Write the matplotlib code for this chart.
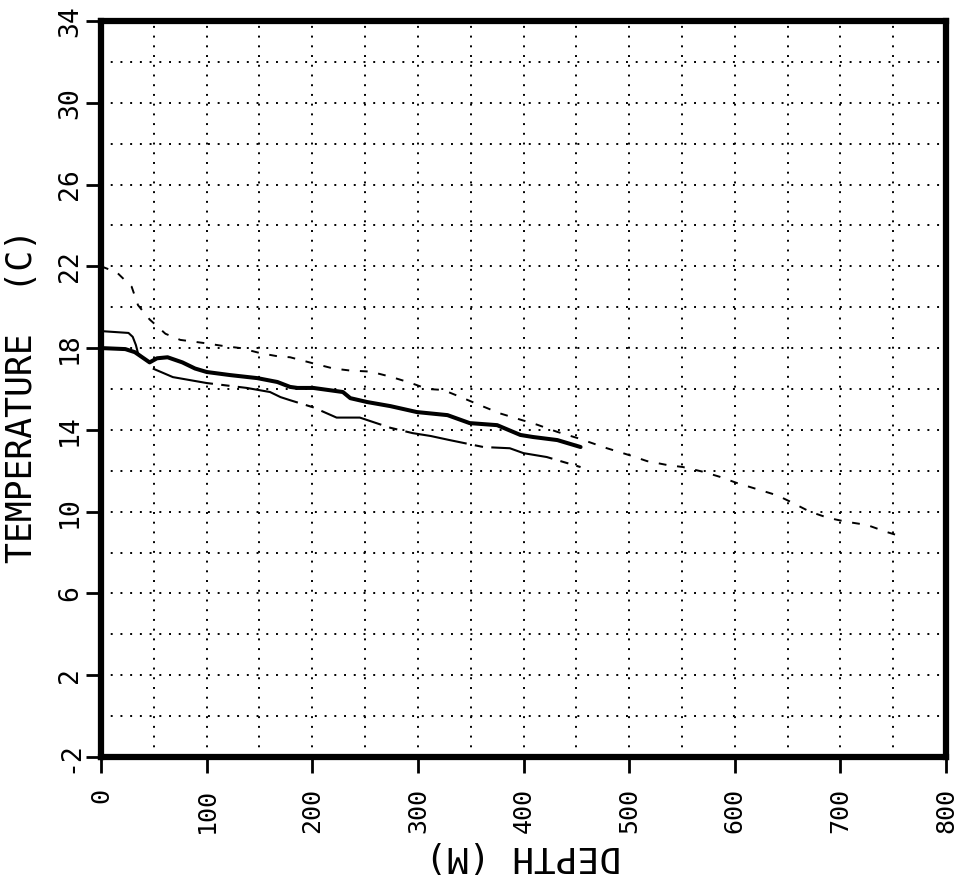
import matplotlib
matplotlib.use("Agg")
import matplotlib.pyplot as plt
from matplotlib.ticker import MultipleLocator

# --- data ---
# dashed profile (longest cast)
dash_depth = [0, 15, 29, 35, 46, 61, 75, 97, 116, 132, 151, 167, 179, 201, 220, 236,
              255, 274, 293, 309, 324, 343, 359, 378, 397, 413, 432, 451, 479, 501,
              517, 536, 551, 570, 586, 602, 621, 640, 652, 671, 688, 706, 725, 744, 760]
dash_temp = [22.0, 21.7, 21.0, 20.1, 19.4, 18.7, 18.4, 18.25, 18.1, 18.0, 17.75, 17.6,
             17.55, 17.25, 17.0, 16.9, 16.85, 16.6, 16.3, 16.0, 15.95, 15.55, 15.2, 14.8,
             14.5, 14.25, 13.9, 13.6, 13.1, 12.75, 12.47, 12.28, 12.18, 11.95, 11.7, 11.4,
             11.1, 10.8, 10.5, 10.0, 9.7, 9.5, 9.35, 9.0, 8.75]

# thick solid profile
solid_depth = [0, 23, 32, 39, 46, 53, 63, 77, 89, 100, 122, 148, 167, 179, 186, 201,
               229, 236, 252, 274, 299, 328, 349, 375, 397, 409, 432, 454]
solid_temp = [18.0, 17.95, 17.8, 17.55, 17.3, 17.5, 17.55, 17.3, 17.0, 16.83, 16.68,
              16.53, 16.34, 16.1, 16.05, 16.05, 15.85, 15.55, 15.36, 15.16, 14.87,
              14.72, 14.33, 14.23, 13.75, 13.65, 13.5, 13.16]

# thin solid surface trace that joins the thick one
surf_depth = [0, 26, 30, 33, 35, 39, 46]
surf_temp = [18.83, 18.74, 18.55, 18.15, 17.75, 17.55, 17.3]

# long-dash profile (lowest)
long_depth = [49, 59, 68, 100, 138, 160, 170, 179, 201, 223, 245, 274, 295, 312, 330,
              362, 387, 400, 422, 454]
long_temp = [17.0, 16.78, 16.58, 16.29, 16.05, 15.85, 15.6, 15.45, 15.1, 14.6, 14.6,
             14.1, 13.84, 13.7, 13.5, 13.16, 13.1, 12.86, 12.67, 12.18]

x_ticks = list(range(0, 801, 100))
y_ticks = list(range(-2, 35, 4))

fig = plt.figure(figsize=(9.63, 8.8), dpi=100)
ax = fig.add_axes([0.1049, 0.1398, 0.8775, 0.8364])

ax.plot(dash_depth, dash_temp, color="black", lw=1.4, dashes=(4, 5.5))
ax.plot(solid_depth, solid_temp, color="black", lw=2.9, solid_capstyle="round")
ax.plot(surf_depth, surf_temp, color="black", lw=1.5)
ax.plot(long_depth, long_temp, color="black", lw=1.5, dashes=(30, 4, 4, 4))

ax.set_xlim(0, 800)
ax.set_ylim(-2, 34)
ax.set_xticks(x_ticks)
ax.set_yticks(y_ticks)
ax.xaxis.set_minor_locator(MultipleLocator(50))
ax.yaxis.set_minor_locator(MultipleLocator(2))
ax.grid(True, which="both", color="black", lw=1.4, linestyle=(0, (1, 4)))

for s in ax.spines.values():
    s.set_linewidth(4.5)
    s.set_zorder(5)

ax.tick_params(axis="x", which="major", direction="out", length=11.5, width=2, pad=11)
ax.tick_params(axis="y", which="major", direction="out", length=11, width=2, pad=2)
ax.tick_params(which="minor", length=0)

ax.set_xticklabels([str(v) for v in x_ticks], rotation=90,
                   family="DejaVu Sans Mono", fontsize=18)
ax.set_yticklabels([str(v) for v in y_ticks], rotation=90,
                   family="DejaVu Sans Mono", fontsize=19)
plt.setp(ax.get_yticklabels(), va="center", ha="right")

ax.set_ylabel("TEMPERATURE  (C)", family="DejaVu Sans Mono", fontsize=25)
ax.yaxis.label.set_verticalalignment("center")
ax.yaxis.set_label_coords(-0.0935, 0.49)

ax.set_xlabel("DEPTH (M)", family="DejaVu Sans Mono", fontsize=26, rotation=180)
ax.xaxis.label.set_verticalalignment("center")
ax.xaxis.set_label_coords(0.5, -0.135)

fig.savefig("out.png", dpi=100)
